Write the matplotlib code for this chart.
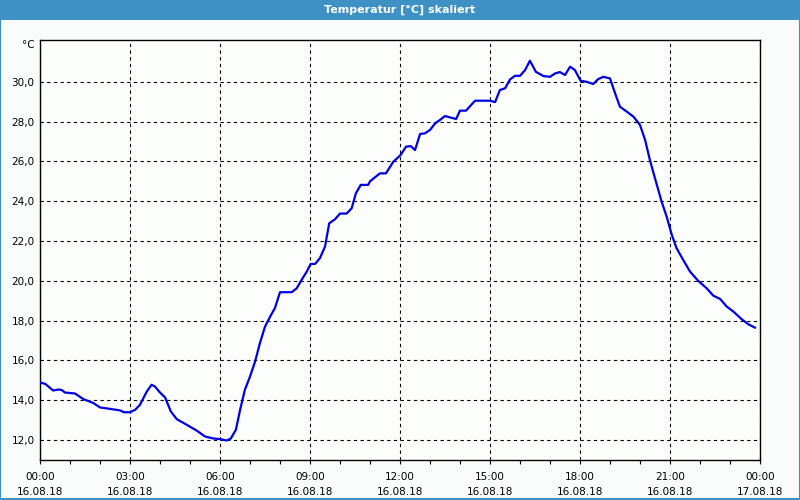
import matplotlib
matplotlib.use('Agg')
import matplotlib.pyplot as plt
from matplotlib.patches import Rectangle
import numpy as np

# temperature curve (hours since 16.08.18 00:00)
hours = [0.0, 0.17, 0.44, 0.61, 0.72, 0.83, 1.17, 1.44, 1.78, 2.0, 2.33, 2.67,
         2.8, 3.0, 3.17, 3.33, 3.56, 3.72, 3.83, 4.0, 4.17, 4.36, 4.56, 4.89,
         5.22, 5.5, 5.78, 6.0, 6.22, 6.36, 6.53, 6.67, 6.83, 7.0, 7.17, 7.33,
         7.5, 7.67, 7.83, 8.0, 8.39, 8.56, 8.72, 8.89, 9.02, 9.17, 9.33, 9.5,
         9.64, 9.83, 10.0, 10.22, 10.39, 10.53, 10.69, 10.94, 11.0, 11.33,
         11.53, 11.78, 12.02, 12.2, 12.36, 12.5, 12.67, 12.83, 13.0, 13.17,
         13.33, 13.5, 13.67, 13.87, 14.0, 14.2, 14.5, 15.0, 15.17, 15.33,
         15.5, 15.67, 15.83, 16.0, 16.17, 16.33, 16.53, 16.78, 17.0, 17.17,
         17.33, 17.5, 17.67, 17.83, 18.02, 18.22, 18.44, 18.61, 18.78, 19.0,
         19.17, 19.33, 19.56, 19.78, 20.0, 20.17, 20.33, 20.5, 20.72, 20.89,
         21.06, 21.22, 21.44, 21.67, 21.94, 22.22, 22.44, 22.67, 22.89, 23.11,
         23.39, 23.61, 23.83]
temps = [14.89, 14.83, 14.49, 14.54, 14.52, 14.39, 14.34, 14.06, 13.86, 13.64,
         13.57, 13.49, 13.4, 13.4, 13.52, 13.77, 14.44, 14.78, 14.69, 14.39,
         14.14, 13.44, 13.05, 12.77, 12.48, 12.18, 12.08, 12.05, 11.98, 12.08,
         12.52, 13.52, 14.53, 15.19, 15.95, 16.87, 17.7, 18.2, 18.63, 19.43,
         19.43, 19.63, 20.05, 20.46, 20.85, 20.85, 21.14, 21.72, 22.89, 23.09,
         23.38, 23.38, 23.65, 24.4, 24.82, 24.82, 25.0, 25.4, 25.4, 25.99,
         26.32, 26.74, 26.77, 26.57, 27.38, 27.41, 27.58, 27.91, 28.08, 28.28,
         28.21, 28.13, 28.55, 28.55, 29.05, 29.05, 28.98, 29.59, 29.67, 30.12,
         30.3, 30.3, 30.59, 31.06, 30.5, 30.29, 30.25, 30.42, 30.49, 30.34,
         30.76, 30.59, 30.05, 30.0, 29.89, 30.14, 30.25, 30.17, 29.42, 28.75,
         28.5, 28.25, 27.83, 27.08, 26.07, 25.15, 23.98, 23.22, 22.31, 21.64,
         21.05, 20.46, 20.0, 19.63, 19.26, 19.09, 18.71, 18.46, 18.07, 17.82,
         17.65]

x_ticks = [0, 3, 6, 9, 12, 15, 18, 21, 24]
x_labels = ['00:00\n16.08.18', '03:00\n16.08.18', '06:00\n16.08.18',
            '09:00\n16.08.18', '12:00\n16.08.18', '15:00\n16.08.18',
            '18:00\n16.08.18', '21:00\n16.08.18', '00:00\n17.08.18']
y_ticks = [12, 14, 16, 18, 20, 22, 24, 26, 28, 30]
y_labels = ['12,0', '14,0', '16,0', '18,0', '20,0', '22,0', '24,0', '26,0',
            '28,0', '30,0']

bar_blue = '#3d91c5'

fig = plt.figure(figsize=(8, 5), dpi=100, facecolor='#f9fcfa')

# window title bar and border
fig.patches.append(Rectangle((0, 0.96), 1, 0.04, transform=fig.transFigure,
                             facecolor=bar_blue, edgecolor='none', zorder=0))
fig.patches.append(Rectangle((0.0006, 0.002), 0.9988, 0.996, transform=fig.transFigure,
                             facecolor='none', edgecolor=bar_blue, lw=1.5, zorder=1))
fig.text(0.5, 0.98, 'Temperatur [°C] skaliert', ha='center', va='center',
         color='white', fontsize=8, fontweight='bold')

ax = fig.add_axes([0.05, 0.08, 0.9, 0.84])
ax.set_facecolor('#fcfefc')
ax.plot(hours, temps, color='#0000e6', lw=1.6, zorder=3)

ax.set_xlim(0, 24)
ax.set_ylim(11.0, 32.1)
ax.set_xticks(x_ticks)
ax.set_xticklabels(x_labels, fontsize=7.5, linespacing=1.6)
ax.set_xticks(np.arange(0, 25, 1), minor=True)
ax.set_yticks(y_ticks)
ax.set_yticklabels(y_labels, fontsize=7.5)

ax.tick_params(axis='x', which='both', direction='out', length=3, width=0.8,
               pad=6, colors='black')
ax.tick_params(axis='y', length=0, pad=4)
ax.grid(True, which='major', color='black', ls=(0, (3, 3)), lw=0.8)

for sp in ax.spines.values():
    sp.set_color('black')
    sp.set_linewidth(1.0)

fig.text(0.035, 0.91, '°C', ha='center', va='center', fontsize=7.5)

fig.savefig('out.png', dpi=100, facecolor=fig.get_facecolor())
